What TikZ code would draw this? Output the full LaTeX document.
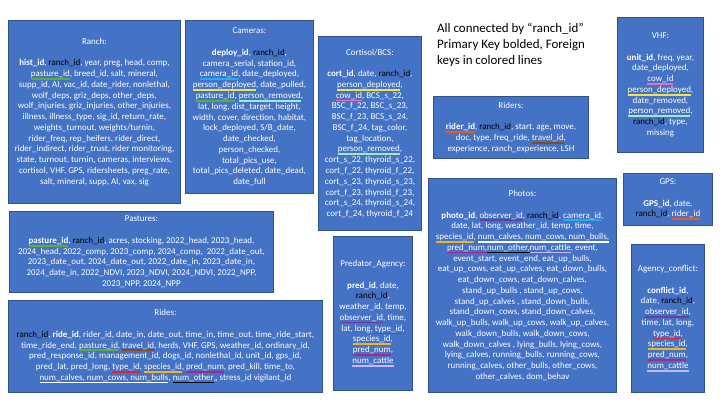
\documentclass[tikz,border=0pt]{standalone}
\usepackage{fontspec}
\setmainfont{Carlito}
\usepackage{xcolor}
\usepackage{tikz}

\definecolor{boxfill}{HTML}{4472C4}
\definecolor{boxedge}{HTML}{2F528F}
\definecolor{fkpasture}{HTML}{5DB02C}
\definecolor{fkcamera}{HTML}{1EB0F0}
\definecolor{fkdeploy}{HTML}{F2E63C}
\definecolor{fkremove}{HTML}{A6E8C4}
\definecolor{fkcow}{HTML}{F06CC4}
\definecolor{fkrider}{HTML}{F05A14}
\definecolor{fktravel}{HTML}{8B4A12}
\definecolor{fktype}{HTML}{E8202C}
\definecolor{fkspecies}{HTML}{F2B41C}
\definecolor{fkpred}{HTML}{B0208E}
\definecolor{fkobserver}{HTML}{6A3D9A}
\definecolor{fkcattle}{HTML}{C8B6F2}

% foreign key: coloured line under the text
\newcommand{\fk}[2]{\setbox0\hbox{#2}\rlap{\color{#1}\rule[-3.1pt]{\wd0}{1.7pt}}\box0}
\newcommand{\pk}[1]{\textbf{#1}}
\newcommand{\rid}{\textcolor{black}{ranch\_id}}

\begin{document}
\begin{tikzpicture}[
  x=1bp,y=-1bp,
  tbl/.style={draw=boxedge,line width=0.9pt,fill=boxfill,text=white,align=center,
    anchor=north west,inner sep=1pt,font=\fontsize{9}{10.8}\selectfont},
  note/.style={anchor=north west,align=left,inner sep=0pt,font=\fontsize{13}{16}\selectfont}
]
\useasboundingbox (0,0) rectangle (720,405);
% tables, left column
\node[tbl,minimum width=172bp,minimum height=183bp] (ranch) at (8,20) {Ranch:\\[10.8pt]
  \pk{hist\_id}, \rid, year, preg, head, comp,\\
  \fk{fkpasture}{pasture\_id}, breed\_id, salt, mineral,\\
  supp\_id, AI, vac\_id, date\_rider, nonlethal,\\
  wolf\_deps, griz\_deps, other\_deps,\\
  wolf\_injuries, griz\_injuries, other\_injuries,\\
  illness, illness\_type, sig\_id, return\_rate,\\
  weights\_turnout, weights/turnin,\\
  rider\_freq, rep\_heifers, rider\_direct,\\
  rider\_indirect, rider\_trust, rider monitoring,\\
  state, turnout, turnin, cameras, interviews,\\
  cortisol, VHF, GPS, ridersheets, preg\_rate,\\
  salt, mineral, supp, AI, vax, sig};
\node[tbl,minimum width=264bp,minimum height=81bp] (pastures) at (9,211) {Pastures:\\[10.8pt]
  \fk{fkpasture}{\pk{pasture\_id}}, \rid, acres, stocking, 2022\_head, 2023\_head,\\
  2024\_head, 2022\_comp, 2023\_comp, 2024\_comp,\ \ 2022\_date\_out,\\
  2023\_date\_out, 2024\_date\_out, 2022\_date\_in, 2023\_date\_in,\\
  2024\_date\_in, 2022\_NDVI, 2023\_NDVI, 2024\_NDVI, 2022\_NPP,\\
  2023\_NPP, 2024\_NPP};
\node[tbl,minimum width=314bp,minimum height=92bp] (rides) at (8,300) {Rides:\\[10.8pt]
  \rid, \pk{ride\_id}, \fk{fkrider}{rider\_id}, date\_in, date\_out, time\_in, time\_out, time\_ride\_start,\\
  time\_ride\_end, \fk{fkpasture}{pasture\_id}, \fk{fktravel}{travel\_id}, herds, VHF, GPS, weather\_id, ordinary\_id,\\
  pred\_response\_id, management\_id, dogs\_id, nonlethal\_id, unit\_id, gps\_id,\\
  pred\_lat, pred\_long, \fk{fktype}{type\_id}, \fk{fkspecies}{species\_id}, \fk{fkpred}{pred\_num}, pred\_kill, time\_to,\\
  \fk{white}{num\_calves, num\_cows, num\_bulls}, \fk{black}{num\_other},, stress\_id vigilant\_id};
% tables, middle
\node[tbl,minimum width=128bp,minimum height=173bp] (cameras) at (185,20) {Cameras:\\[10.8pt]
  \pk{deploy\_id}, \rid,\\
  camera\_serial, station\_id,\\
  \fk{fkcamera}{camera\_id}, date\_deployed,\\
  \fk{fkdeploy}{person\_deployed}, date\_pulled,\\
  \fk{fkpasture}{pasture\_id}, \fk{fkremove}{person\_removed},\\
  lat, long, dist\_target, height,\\
  width, cover, direction, habitat,\\
  lock\_deployed, S/B\_date,\\
  date\_checked,\\
  person\_checked,\\
  total\_pics\_use,\\
  total\_pics\_deleted, date\_dead,\\
  date\_full};
\node[tbl,minimum width=103bp,minimum height=194bp] (cortisol) at (318,36) {Cortisol/BCS:\\[10.8pt]
  \pk{cort\_id}, date, \rid,\\
  \fk{fkdeploy}{person\_deployed},\\
  \fk{fkcow}{cow\_id}, BCS\_s\_22,\\
  BSC\_f\_22, BSC\_s\_23,\\
  BSC\_f\_23, BCS\_s\_24,\\
  BSC\_f\_24, tag\_color,\\
  tag\_location,\\
  \fk{fkremove}{person\_removed},\\
  cort\_s\_22, thyroid\_s\_22,\\
  cort\_f\_22, thyroid\_f\_22,\\
  cort\_s\_23, thyroid\_s\_23,\\
  cort\_f\_23, thyroid\_f\_23,\\
  cort\_s\_24, thyroid\_s\_24,\\
  cort\_f\_24, thyroid\_f\_24};
\node[tbl,minimum width=79bp,minimum height=154bp] (predator) at (333,236) {Predator\_Agency:\\[10.8pt]
  \pk{pred\_id}, date,\\
  \rid,\\
  weather\_id, temp,\\
  \fk{fkobserver}{observer\_id}, time,\\
  lat, long, \fk{fktype}{type\_id},\\
  \fk{fkspecies}{species\_id},\\
  \fk{fkpred}{pred\_num},\\
  \fk{fkcattle}{num\_cattle}};
% key to the colours
\node[note] (legend) at (437,23) {All connected by “ranch\_id”\\
  Primary Key bolded, Foreign\\
  keys in colored lines};
% tables, right
\node[tbl,minimum width=155bp,minimum height=62bp] (riders) at (433,96) {Riders:\\[10.8pt]
  \fk{fkrider}{\pk{rider\_id}}, \rid, start, age, move,\\
  doc, type, freq\_ride, \fk{fktravel}{travel\_id},\\
  experience, ranch\_experience, LSH};
\node[tbl,minimum width=188bp,minimum height=214bp] (photos) at (428,178) {Photos:\\[10.8pt]
  \pk{photo\_id}, \fk{fkobserver}{observer\_id}, \rid, \fk{fkcamera}{camera\_id},\\
  date, lat, long, weather\_id, temp, time,\\
  \fk{fkspecies}{species\_id},\ \fk{white}{num\_calves, num\_cows, num\_bulls,}\\
  \fk{fkpred}{pred\_num,} \fk{black}{num\_other,} \fk{fkcattle}{num\_cattle}, event,\\
  event\_start, event\_end, eat\_up\_bulls,\\
  eat\_up\_cows, eat\_up\_calves, eat\_down\_bulls,\\
  eat\_down\_cows, eat\_down\_calves,\\
  stand\_up\_bulls , stand\_up\_cows,\\
  stand\_up\_calves , stand\_down\_bulls,\\
  stand\_down\_cows, stand\_down\_calves,\\
  walk\_up\_bulls, walk\_up\_cows, walk\_up\_calves,\\
  walk\_down\_bulls, walk\_down\_cows,\\
  walk\_down\_calves , lying\_bulls, lying\_cows,\\
  lying\_calves, running\_bulls, running\_cows,\\
  running\_calves, other\_bulls, other\_cows,\\
  other\_calves, dom\_behav};
\node[tbl,minimum width=86bp,minimum height=135bp] (vhf) at (617,17) {VHF:\\[10.8pt]
  \pk{unit\_id}, freq, year,\\
  date\_deployed,\\
  \fk{fkcow}{cow\_id}\\
  \fk{fkdeploy}{person\_deployed},\\
  date\_removed,\\
  \fk{fkremove}{person\_removed},\\
  \rid, type,\\
  missing};
\node[tbl,minimum width=89bp,minimum height=52bp] (gps) at (623,173) {GPS:\\[10.8pt]
  \pk{GPS\_id}, date,\\
  \rid, \fk{fkrider}{rider\_id}};
\node[tbl,minimum width=73bp,minimum height=148bp] (conflict) at (631,244) {Agency\_conflict:\\[10.8pt]
  \pk{conflict\_id},\\
  date, \rid,\\
  \fk{fkobserver}{observer\_id},\\
  time, lat, long,\\
  \fk{fktype}{type\_id},\\
  \fk{fkspecies}{species\_id},\\
  \fk{fkpred}{pred\_num},\\
  \fk{fkcattle}{num\_cattle}};
\end{tikzpicture}
\end{document}
